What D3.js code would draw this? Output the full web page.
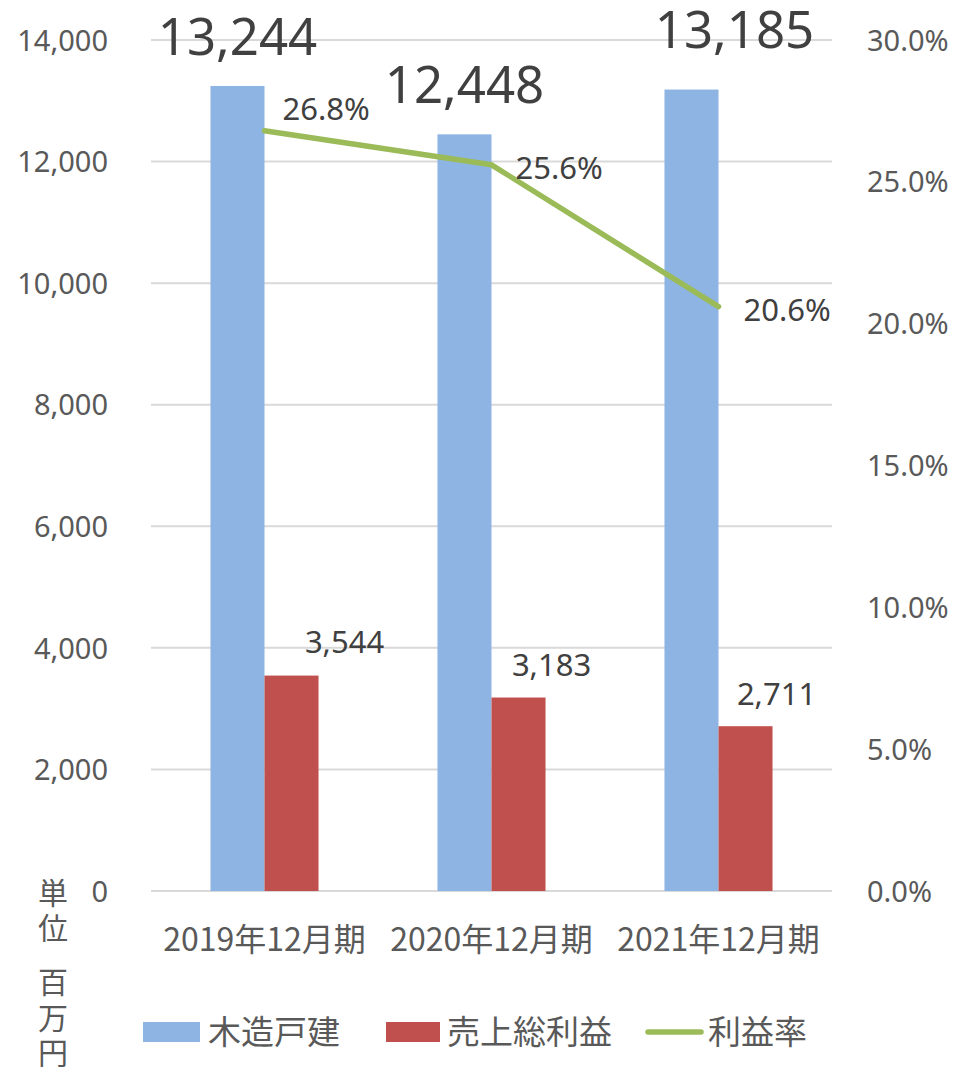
<!DOCTYPE html>
<html>
<head>
<meta charset="utf-8">
<script src="https://cdn.jsdelivr.net/npm/d3@7"></script>
<style>
  body { margin: 0; background: #fff; }
  text { font-family: "Noto Sans", "Noto Sans CJK JP", sans-serif; }
</style>
</head>
<body>
<div id="chart"></div>
<script>
// data
var categories = ["2019年12月期", "2020年12月期", "2021年12月期"];
var sales = [13244, 12448, 13185];      // 木造戸建
var grossProfit = [3544, 3183, 2711];   // 売上総利益
var margin = [26.8, 25.6, 20.6];        // 利益率 (%)
var leftTicks = [0, 2000, 4000, 6000, 8000, 10000, 12000, 14000];
var rightTicks = [0, 5, 10, 15, 20, 25, 30];
var seriesNames = ["木造戸建", "売上総利益", "利益率"];
var unitLabel = ["単", "位", "百", "万", "円"];

var W = 958, H = 1067;
var plot = { left: 151, right: 832, top: 40, bottom: 891 };
var blue = "#8EB4E3", red = "#C0504D", green = "#9BBB59";
var axisColor = "#595959", labelColor = "#404040";

var svg = d3.select("#chart").append("svg")
  .attr("width", W)
  .attr("height", H);

var x = d3.scaleBand()
  .domain(categories)
  .range([plot.left, plot.right]);
var y = d3.scaleLinear().domain([0, 14000]).range([plot.bottom, plot.top]);
var y2 = d3.scaleLinear().domain([0, 30]).range([plot.bottom, plot.top]);
var barW = x.bandwidth() * 0.238;

// gridlines
svg.append("g")
  .selectAll("line")
  .data(leftTicks)
  .enter()
  .append("line")
  .attr("x1", plot.left)
  .attr("x2", plot.right)
  .attr("y1", d => y(d))
  .attr("y2", d => y(d))
  .attr("stroke", "#D9D9D9")
  .attr("stroke-width", 2);

// left axis
var yAxis = svg.append("g")
  .attr("transform", "translate(108,0)")
  .call(d3.axisLeft(y).tickValues(leftTicks).tickSize(0).tickPadding(0).tickFormat(d3.format(",")));
yAxis.select(".domain").remove();
yAxis.selectAll("text")
  .attr("fill", axisColor)
  .attr("font-size", "29px")
  .attr("dy", "0.35em")
  .style("font-family", "\"Noto Sans\", sans-serif");

// right axis
var yAxis2 = svg.append("g")
  .attr("transform", "translate(867,0)")
  .call(d3.axisRight(y2).tickValues(rightTicks).tickSize(0).tickPadding(0).tickFormat(d => d3.format(".1f")(d) + "%"));
yAxis2.select(".domain").remove();
yAxis2.selectAll("text")
  .attr("fill", axisColor)
  .attr("font-size", "29px")
  .attr("dy", "0.35em")
  .style("font-family", "\"Noto Sans\", sans-serif");

// bars
svg.append("g")
  .selectAll("rect")
  .data(sales)
  .enter()
  .append("rect")
  .attr("x", (d, i) => x(categories[i]) + x.bandwidth() / 2 - barW)
  .attr("y", d => y(d))
  .attr("width", barW)
  .attr("height", d => y(0) - y(d))
  .attr("fill", blue);

svg.append("g")
  .selectAll("rect")
  .data(grossProfit)
  .enter()
  .append("rect")
  .attr("x", (d, i) => x(categories[i]) + x.bandwidth() / 2)
  .attr("y", d => y(d))
  .attr("width", barW)
  .attr("height", d => y(0) - y(d))
  .attr("fill", red);

// line
var line = d3.line()
  .x((d, i) => x(categories[i]) + x.bandwidth() / 2)
  .y(d => y2(d));
svg.append("path")
  .datum(margin)
  .attr("d", line)
  .attr("fill", "none")
  .attr("stroke", green)
  .attr("stroke-width", 5.5)
  .attr("stroke-linecap", "round")
  .attr("stroke-linejoin", "round");

// data labels (nudged like the original)
var salesNudge = [[0, -31], [0, -31], [43, -42]];
svg.append("g")
  .selectAll("text")
  .data(sales)
  .enter()
  .append("text")
  .attr("x", (d, i) => x(categories[i]) + x.bandwidth() / 2 - barW / 2 + salesNudge[i][0])
  .attr("y", (d, i) => y(d) + salesNudge[i][1])
  .attr("text-anchor", "middle")
  .attr("font-size", "51px")
  .attr("fill", labelColor)
  .text(d => d3.format(",")(d));

var profitNudge = [[53, -23], [33, -22], [31, -21]];
svg.append("g")
  .selectAll("text")
  .data(grossProfit)
  .enter()
  .append("text")
  .attr("x", (d, i) => x(categories[i]) + x.bandwidth() / 2 + barW / 2 + profitNudge[i][0])
  .attr("y", (d, i) => y(d) + profitNudge[i][1])
  .attr("text-anchor", "middle")
  .attr("font-size", "31px")
  .attr("fill", labelColor)
  .text(d => d3.format(",")(d));

var marginNudge = [[18, -11], [24, 14], [25, 14]];
svg.append("g")
  .selectAll("text")
  .data(margin)
  .enter()
  .append("text")
  .attr("x", (d, i) => x(categories[i]) + x.bandwidth() / 2 + marginNudge[i][0])
  .attr("y", (d, i) => y2(d) + marginNudge[i][1])
  .attr("font-size", "31px")
  .attr("fill", labelColor)
  .text(d => d3.format(".1f")(d) + "%");

// category labels
svg.append("g")
  .selectAll("text")
  .data(categories)
  .enter()
  .append("text")
  .attr("x", d => x(d) + x.bandwidth() / 2)
  .attr("y", 951)
  .attr("text-anchor", "middle")
  .attr("font-size", "32px")
  .attr("fill", axisColor)
  .style("font-family", "\"Noto Sans CJK JP\", sans-serif")
  .text(d => d);

// unit label, vertical
var unitY = [893, 928, 982, 1018, 1053];
svg.append("g")
  .selectAll("text")
  .data(unitLabel)
  .enter()
  .append("text")
  .attr("x", 53)
  .attr("y", (d, i) => unitY[i])
  .attr("text-anchor", "middle")
  .attr("dy", "0.35em")
  .attr("font-size", "30px")
  .attr("fill", axisColor)
  .style("font-family", "\"Noto Sans CJK JP\", sans-serif")
  .text(d => d);

// legend
var legendX = [143, 386, 645];
var legend = svg.append("g");
legend.append("rect").attr("x", legendX[0]).attr("y", 1022).attr("width", 57).attr("height", 20).attr("fill", blue);
legend.append("rect").attr("x", legendX[1]).attr("y", 1022).attr("width", 54).attr("height", 20).attr("fill", red);
legend.append("line")
  .attr("x1", legendX[2] + 3).attr("x2", legendX[2] + 56)
  .attr("y1", 1032).attr("y2", 1032)
  .attr("stroke", green).attr("stroke-width", 5.5).attr("stroke-linecap", "round");
legend.selectAll("text")
  .data(seriesNames)
  .enter()
  .append("text")
  .attr("x", (d, i) => legendX[i] + [65, 61, 63][i])
  .attr("y", 1044)
  .attr("font-size", "33px")
  .attr("fill", axisColor)
  .style("font-family", "\"Noto Sans CJK JP\", sans-serif")
  .text(d => d);
</script>
</body>
</html>
